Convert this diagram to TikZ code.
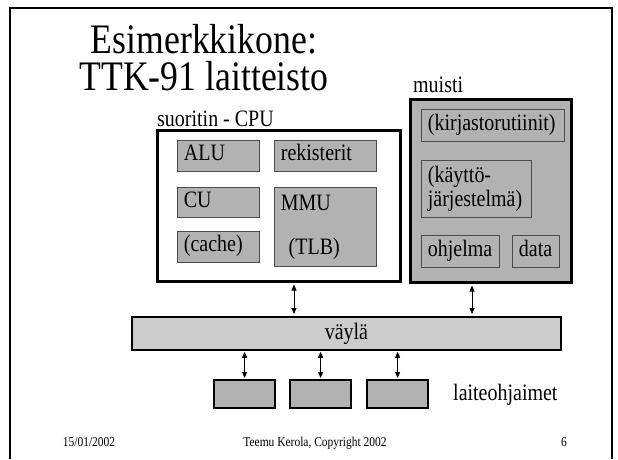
\documentclass[tikz,border=0pt]{standalone}
\usepackage{fontspec}
\setmainfont{Liberation Serif}[FakeStretch=0.85]
\usetikzlibrary{arrows.meta}
\definecolor{boxgray}{RGB}{178,178,178}
\definecolor{busgray}{RGB}{204,204,204}
\tikzset{
  unit/.style={draw=black!70, fill=boxgray, line width=0.8pt, anchor=north west,
    inner xsep=6.5pt, inner ysep=0pt, align=left, text width=#1,
    font=\fontsize{23.5}{23.5}\selectfont},
  oneline/.style={text height=15pt, text depth=5pt},
  big/.style={draw, line width=2.5pt, anchor=north west, inner sep=0pt},
  devbox/.style={draw, fill=boxgray, line width=2.2pt, anchor=north west,
    minimum width=61pt, minimum height=28pt, inner sep=0pt},
  lbl/.style={inner sep=0pt, font=\fontsize{23.5}{23.5}\selectfont},
  headline/.style={inner sep=0pt, anchor=base, align=center,
    font=\fontsize{42}{37}\selectfont},
  foot/.style={inner sep=0pt, anchor=base, font=\fontsize{13.5}{14}\selectfont},
  link/.style={line width=0.8pt, {Triangle[length=6pt,width=5pt]}-{Triangle[length=6pt,width=5pt]}}
}
\begin{document}
\begin{tikzpicture}[x=1pt,y=-1pt]
    \useasboundingbox (0,0) rectangle (618,459);
    \draw[line width=1.5pt] (10,459) -- (10,8) -- (612,8) -- (612,459);
    % otsikko
    \node[headline] (title) at (204,90) {Esimerkkikone:\\TTK-91 laitteisto};
    % suoritin
    \node[big, fill=white, minimum width=243pt, minimum height=151pt] (cpu) at (156,129) {};
    \node[lbl, anchor=base west] (cpulbl) at (157,126) {suoritin - CPU};
    \node[unit=69pt, oneline, minimum height=31pt] (alu) at (177,140) {ALU};
    \node[unit=89pt, oneline, minimum height=31pt] (rek) at (274,140) {rekisterit};
    \node[unit=69pt, oneline, minimum height=30pt] (cu) at (177,187) {CU};
    \node[unit=89pt, minimum height=79pt] (mmu) at (274,187) {MMU\\[20.5pt]\ (TLB)};
    \node[unit=69pt, oneline, minimum height=31pt] (cache) at (177,231) {(cache)};
    % muisti
    \node[big, fill=boxgray, minimum width=161pt, minimum height=183pt] (mem) at (409,98) {};
    \node[lbl, anchor=base west] (memlbl) at (413,92) {muisti};
    \node[unit=130pt, oneline, minimum height=32pt] (kirj) at (421,109) {(kirjastorutiinit)};
    \node[unit=97pt, minimum height=57pt] (kj) at (421,160) {(käyttö-\\järjestelmä)};
    \node[unit=65pt, oneline, minimum height=32pt] (ohj) at (421,235) {ohjelma};
    \node[unit=34pt, oneline, minimum height=32pt] (data) at (512,235) {data};
    % väylä
    \node[draw, fill=busgray, line width=1.8pt, anchor=north west, minimum width=429pt,
      minimum height=33pt, inner sep=0pt, font=\fontsize{23.5}{23.5}\selectfont] (bus) at (131,316) {väylä};
    \coordinate (c1) at (294,0);
    \coordinate (c2) at (472,0);
    \draw[link, shorten <=2pt, shorten >=2pt] (c1 |- cpu.south) -- (c1 |- bus.north);
    \draw[link, shorten <=2pt, shorten >=2pt] (c2 |- mem.south) -- (c2 |- bus.north);
    % laiteohjaimet
    \foreach \i/\xx in {1/213, 2/289, 3/366} {
      \node[devbox] (dev\i) at (\xx,379) {};
      \draw[link, shorten <=1pt, shorten >=1pt] (dev\i.north) -- (dev\i.north |- bus.south);
    }
    \node[lbl, anchor=west] (devlbl) at (453,395) {laiteohjaimet};
    % alatunniste
    \node[foot] (date) at (89,446) {15/01/2002};
    \node[foot] (copy) at (315,446) {Teemu Kerola, Copyright 2002};
    \node[foot] (page) at (564,446) {6};
\end{tikzpicture}
\end{document}
